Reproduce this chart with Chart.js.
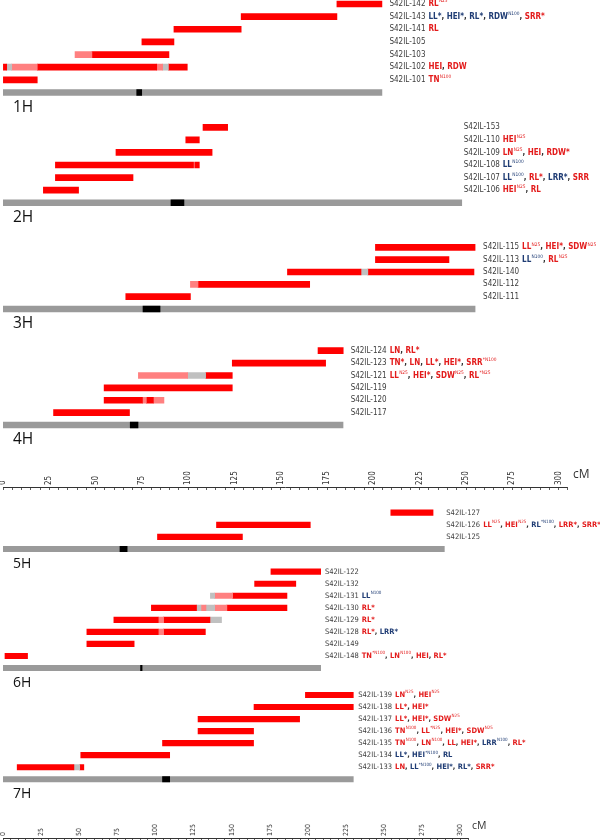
<!DOCTYPE html>
<html>
<head>
<meta charset="utf-8">
<script src="https://cdn.jsdelivr.net/npm/chart.js@4.4.1/dist/chart.umd.min.js"></script>
<style>
    html, body { margin: 0; padding: 0; background: #fff; overflow: hidden; }
    #page { position: relative; width: 600px; height: 840px; }
    #page canvas { position: absolute; left: 0; }
    .chr { position: absolute; font-family: "Open Sans", sans-serif; color: #111; line-height: 1; white-space: nowrap; }
</style>
</head>
<body>
<div id="page"></div>
<script>
// ---- datos: segmentos [inicio cM, fin cM, clase] ; r = introgresión, p = dudosa, g = sin dato
const lines1H = ['S42IL-142', 'S42IL-143', 'S42IL-141', 'S42IL-105', 'S42IL-103', 'S42IL-102', 'S42IL-101'];
const segs1H = [
    [[180.3, 204.6, 'r']],
    [[128.6, 180.3, 'r']],
    [[92.3, 128.6, 'r']],
    [[75, 92.3, 'r']],
    [[38.9, 48, 'p'], [48, 89.6, 'r']],
    [[0.2, 2, 'r'], [2, 4.7, 'g'], [4.7, 18.5, 'p'], [18.5, 83, 'r'], [83, 86.2, 'p'], [86.2, 89.3, 'g'], [89.3, 99.5, 'r']],
    [[0.2, 18.5, 'r']]
];
const traits1H = [['r:RL^N25'], ['b:LL*', 'b:HEI*', 'b:RL*', 'b:RDW^N100', 'r:SRR*'], ['r:RL'], [], [], ['r:HEI', 'r:RDW'], ['r:TN^N100']];
const chrom1H = [204.6, 72.2, 74.9]; // longitud, centrómero inicio, fin

const lines2H = ['S42IL-153', 'S42IL-110', 'S42IL-109', 'S42IL-108', 'S42IL-107', 'S42IL-106'];
const segs2H = [
    [[108, 121.3, 'r']],
    [[98.7, 106, 'r']],
    [[61, 112.9, 'r']],
    [[28.3, 102.9, 'r'], [103.5, 106, 'r']],
    [[28.3, 70.2, 'r']],
    [[21.8, 40.8, 'r']]
];
const traits2H = [[], ['r:HEI^N25'], ['r:LN^N25', 'r:HEI', 'r:RDW*'], ['b:LL^N100'], ['b:LL^N100', 'r:RL*', 'b:LRR*', 'r:SRR'], ['r:HEI^N25', 'r:RL']];
const chrom2H = [247.7, 90.7, 97.7];

const lines3H = ['S42IL-115', 'S42IL-113', 'S42IL-140', 'S42IL-112', 'S42IL-111'];
const segs3H = [
    [[201.1, 254.9, 'r']],
    [[201.1, 240.8, 'r']],
    [[153.6, 193.3, 'r'], [193.3, 197, 'g'], [197, 254.3, 'r']],
    [[101.2, 105.3, 'p'], [105.3, 165.6, 'r']],
    [[66.3, 101.2, 'r']]
];
const traits3H = [['r:LL^N25', 'r:HEI*', 'r:SDW^N25'], ['b:LL^N100', 'r:RL^N25'], [], [], []];
const chrom3H = [254.9, 75.6, 84.8];

const lines4H = ['S42IL-124', 'S42IL-123', 'S42IL-121', 'S42IL-119', 'S42IL-120', 'S42IL-117'];
const segs4H = [
    [[170.1, 183.7, 'r']],
    [[123.8, 174.2, 'r']],
    [[73.1, 99.7, 'p'], [99.7, 109.4, 'g'], [109.4, 123.8, 'r']],
    [[54.6, 123.8, 'r']],
    [[54.6, 75.3, 'r'], [75.3, 77.4, 'p'], [77.4, 81.2, 'r'], [81.2, 86.9, 'p']],
    [[27.3, 68.3, 'r']]
];
const traits4H = [['r:LN', 'r:RL*'], ['r:TN*', 'r:LN', 'r:LL*', 'r:HEI*', 'r:SRR^*N100'], ['r:LL^N25', 'r:HEI*', 'r:SDW^N25', 'r:RL^*N25'], [], [], []];
const chrom4H = [183.6, 68.7, 72.9];

const lines5H = ['S42IL-127', 'S42IL-126', 'S42IL-125'];
const segs5H = [
    [[254.3, 282, 'r']],
    [[140, 201.5, 'r']],
    [[101.3, 157, 'r']]
];
const traits5H = [[], ['r:LL^N25', 'r:HEI^N25', 'b:RL^*N100', 'r:LRR*', 'r:SRR*'], []];
const chrom5H = [289.4, 76.7, 81.4];

const lines6H = ['S42IL-122', 'S42IL-132', 'S42IL-131', 'S42IL-130', 'S42IL-129', 'S42IL-128', 'S42IL-149', 'S42IL-148'];
const segs6H = [
    [[175.7, 208.3, 'r']],
    [[165, 192, 'r']],
    [[136, 138.8, 'g'], [138.8, 150.6, 'p'], [150.6, 186.2, 'r']],
    [[97.3, 126.9, 'r'], [126.9, 129.8, 'g'], [129.8, 133.1, 'p'], [133.1, 138.8, 'g'], [138.8, 146.8, 'p'], [146.8, 186.2, 'r']],
    [[72.7, 101.8, 'r'], [101.8, 105.3, 'p'], [105.3, 135.7, 'r'], [135.7, 143.3, 'g']],
    [[55, 101.8, 'r'], [101.8, 105.3, 'p'], [105.3, 132.7, 'r']],
    [[55, 86, 'r']],
    [[1.3, 16.1, 'r']]
];
const traits6H = [[], [], ['b:LL^N100'], ['r:RL*'], ['r:RL*'], ['r:RL*', 'b:LRR*'], [], ['r:TN^*N100', 'r:LN^N100', 'r:HEI', 'r:RL*']];
const chrom6H = [208.3, 90.2, 91.2];

const lines7H = ['S42IL-139', 'S42IL-138', 'S42IL-137', 'S42IL-136', 'S42IL-135', 'S42IL-134', 'S42IL-133'];
const segs7H = [
    [[198.3, 229.7, 'r']],
    [[164.6, 229.7, 'r']],
    [[127.9, 194.5, 'r']],
    [[127.9, 164.3, 'r']],
    [[104.6, 164.3, 'r']],
    [[51, 109.3, 'r']],
    [[9.3, 46.5, 'r'], [46.5, 50.3, 'g'], [50.3, 53, 'r']]
];
const traits7H = [['r:LN^N25', 'r:HEI^N25'], ['r:LL*', 'r:HEI*'], ['r:LL*', 'r:HEI*', 'r:SDW^N25'],
    ['r:TN^N100', 'r:LL^*N25', 'r:HEI*', 'r:SDW^N25'],
    ['r:TN^N100', 'r:LN^N100', 'r:LL', 'r:HEI*', 'b:LRR^N100', 'r:RL*'],
    ['b:LL*', 'b:HEI^*N100', 'b:RL'],
    ['r:LN', 'b:LL^*N100', 'b:HEI*', 'b:RL*', 'r:SRR*']];
const chrom7H = [229.7, 104.6, 109.3];

// ---- maquetación ----
const NARROW = '"Liberation Sans Narrow", "DejaVu Sans Condensed", "Arial Narrow", sans-serif';
const segColor = { r: '#ff0000', p: '#ff8080', g: '#c0c0c0', c: '#9a9a9a', k: '#000000' };
const textColor = { r: '#e31b1b', b: '#1f3c74' };

// dos mitades con escalas distintas (px por cM)
const halves = [
    { px: 1.852, max: 305, axisY: 486.7, tickFs: 8, nameFs: 8, traitFs: 8, bar: 6, cm: { x: 573, y: 468, fs: 12 } },
    { px: 1.525, max: 305, axisY: 838.3, tickFs: 7, nameFs: 7.5, traitFs: 7.5, bar: 5.5, cm: { x: 472, y: 820, fs: 10.5 } }
];

const panels = [
    { name: '1H', lines: lines1H, segs: segs1H, traits: traits1H, chrom: chrom1H, half: 0, y0: 4, band: 12.64, gap: 7.5 },
    { name: '2H', lines: lines2H, segs: segs2H, traits: traits2H, chrom: chrom2H, half: 0, y0: 127.3, band: 12.57, gap: 2 },
    { name: '3H', lines: lines3H, segs: segs3H, traits: traits3H, chrom: chrom3H, half: 0, y0: 247.3, band: 12.34, gap: 8 },
    { name: '4H', lines: lines4H, segs: segs4H, traits: traits4H, chrom: chrom4H, half: 0, y0: 350.7, band: 12.38, gap: 7.6 },
    { name: '5H', lines: lines5H, segs: segs5H, traits: traits5H, chrom: chrom5H, half: 1, y0: 512.7, band: 12.1, gap: 2 },
    { name: '6H', lines: lines6H, segs: segs6H, traits: traits6H, chrom: chrom6H, half: 1, y0: 571.7, band: 12.04, gap: 4.3 },
    { name: '7H', lines: lines7H, segs: segs7H, traits: traits7H, chrom: chrom7H, half: 1, y0: 695, band: 12.04, gap: 5 }
];

const page = document.getElementById('page');

// Dibuja nombre de línea + rasgos (colores y superíndices) a la derecha del cromosoma
const rowLabelPlugin = {
    id: 'rowLabels',
    afterDraw(chart, args, opts) {
        const { ctx } = chart;
        const xs = chart.scales.x, ys = chart.scales.y;
        const x0 = xs.getPixelForValue(opts.chromLen) + opts.gap;
        ctx.save();
        ctx.textBaseline = 'middle';
        opts.lines.forEach((name, i) => {
            const yy = ys.getPixelForValue(i);
            ctx.font = `${opts.nameFs}px ${NARROW}`;
            ctx.fillStyle = '#3c3c3c';
            ctx.fillText(name, x0, yy);
            let cx = x0 + ctx.measureText(name).width + 3;
            opts.traits[i].forEach((t, j) => {
                const col = textColor[t[0]];
                const [main, sup] = t.slice(2).split('^');
                if (j > 0) {
                    ctx.font = `bold ${opts.traitFs}px ${NARROW}`;
                    ctx.fillStyle = '#333';
                    ctx.fillText(', ', cx, yy);
                    cx += ctx.measureText(', ').width;
                }
                ctx.font = `bold ${opts.traitFs}px ${NARROW}`;
                ctx.fillStyle = col;
                ctx.fillText(main, cx, yy);
                cx += ctx.measureText(main).width;
                if (sup) {
                    const sfs = opts.traitFs * 0.6;
                    ctx.font = `${sfs}px ${NARROW}`;
                    ctx.fillText(sup, cx + 0.3, yy - opts.traitFs * 0.38);
                    cx += ctx.measureText(sup).width + 0.3;
                }
            });
        });
        ctx.restore();
    }
};

function makePanel(p) {
    const h = halves[p.half];
    const n = p.lines.length + 1;
    const areaTop = p.y0 - p.band / 2;
    const top = Math.floor(areaTop);
    const padTop = areaTop - top;
    const H = Math.ceil(padTop + n * p.band) + 1;
    const cv = document.createElement('canvas');
    cv.width = 600;
    cv.height = H;
    cv.style.top = top + 'px';
    page.appendChild(cv);

    // fila final = cromosoma: centrómero primero (Chart.js pinta el dataset 0 encima)
    const rows = p.segs.concat([[[p.chrom[1], p.chrom[2], 'k'], [0, p.chrom[0], 'c']]]);
    const maxSeg = Math.max(...rows.map(r => r.length));
    const datasets = [];
    for (let k = 0; k < maxSeg; k++) {
        datasets.push({
            data: rows.map(r => r[k] ? [r[k][0], r[k][1]] : null),
            backgroundColor: rows.map(r => r[k] ? segColor[r[k][2]] : 'rgba(0,0,0,0)'),
            barThickness: h.bar,
            grouped: false,
            borderWidth: 0,
            borderSkipped: false
        });
    }

    new Chart(cv, {
        type: 'bar',
        data: { labels: p.lines.concat(['']), datasets: datasets },
        options: {
            indexAxis: 'y',
            responsive: false,
            animation: false,
            layout: { padding: { left: 3, right: 600 - 3 - h.px * h.max, top: padTop, bottom: H - padTop - n * p.band } },
            scales: {
                x: { type: 'linear', min: 0, max: h.max, display: false },
                y: { type: 'category', display: false }
            },
            plugins: {
                legend: { display: false },
                tooltip: { enabled: false },
                rowLabels: { lines: p.lines, traits: p.traits, chromLen: p.chrom[0], gap: p.gap, nameFs: h.nameFs, traitFs: h.traitFs }
            }
        },
        plugins: [rowLabelPlugin]
    });

    // etiqueta del cromosoma (1H, 2H...)
    const chrY = p.y0 + (n - 1) * p.band;
    const fs = p.half === 0 ? 15.5 : 14;
    const div = document.createElement('div');
    div.className = 'chr';
    div.style.fontSize = fs + 'px';
    div.style.left = '13px';
    div.style.top = (chrY + 14.5 - fs * 0.53) + 'px';
    div.textContent = p.name;
    page.appendChild(div);
}

function makeAxis(h) {
    const cv = document.createElement('canvas');
    cv.width = 600;
    cv.height = 30;
    cv.style.top = Math.round(h.axisY - 24) + 'px';
    page.appendChild(cv);
    new Chart(cv, {
        type: 'scatter',
        data: { datasets: [{ data: [] }] },
        options: {
            responsive: false,
            animation: false,
            layout: { padding: { left: 3, right: 600 - 3 - h.px * h.max, top: 0, bottom: 3 } },
            scales: {
                x: {
                    type: 'linear', position: 'top', min: 0, max: h.max,
                    afterFit: s => { s.height = 24; s.paddingLeft = 0; s.paddingRight = 0; },
                    ticks: {
                        stepSize: 5, autoSkip: false, maxRotation: 90, minRotation: 90, padding: 2,
                        // eje superior girado: Chart.js desplaza la etiqueta una altura de línea
                        labelOffset: h.tickFs * 1.2,
                        color: '#333', font: { size: h.tickFs, family: NARROW, lineHeight: 1.2 },
                        callback: v => (v % 25 === 0 ? String(v) : '')
                    },
                    grid: { drawOnChartArea: true, drawTicks: false, color: '#333', lineWidth: 0.8 },
                    border: { display: true, color: '#333', width: 1 }
                },
                y: { display: false, min: 0, max: 1 }
            },
            plugins: { legend: { display: false }, tooltip: { enabled: false } }
        }
    });

    const div = document.createElement('div');
    div.className = 'chr';
    div.style.fontSize = h.cm.fs + 'px';
    div.style.left = h.cm.x + 'px';
    div.style.top = h.cm.y + 'px';
    div.style.color = '#333';
    div.textContent = 'cM';
    page.appendChild(div);
}

panels.forEach(makePanel);
halves.forEach(makeAxis);
</script>
</body>
</html>
